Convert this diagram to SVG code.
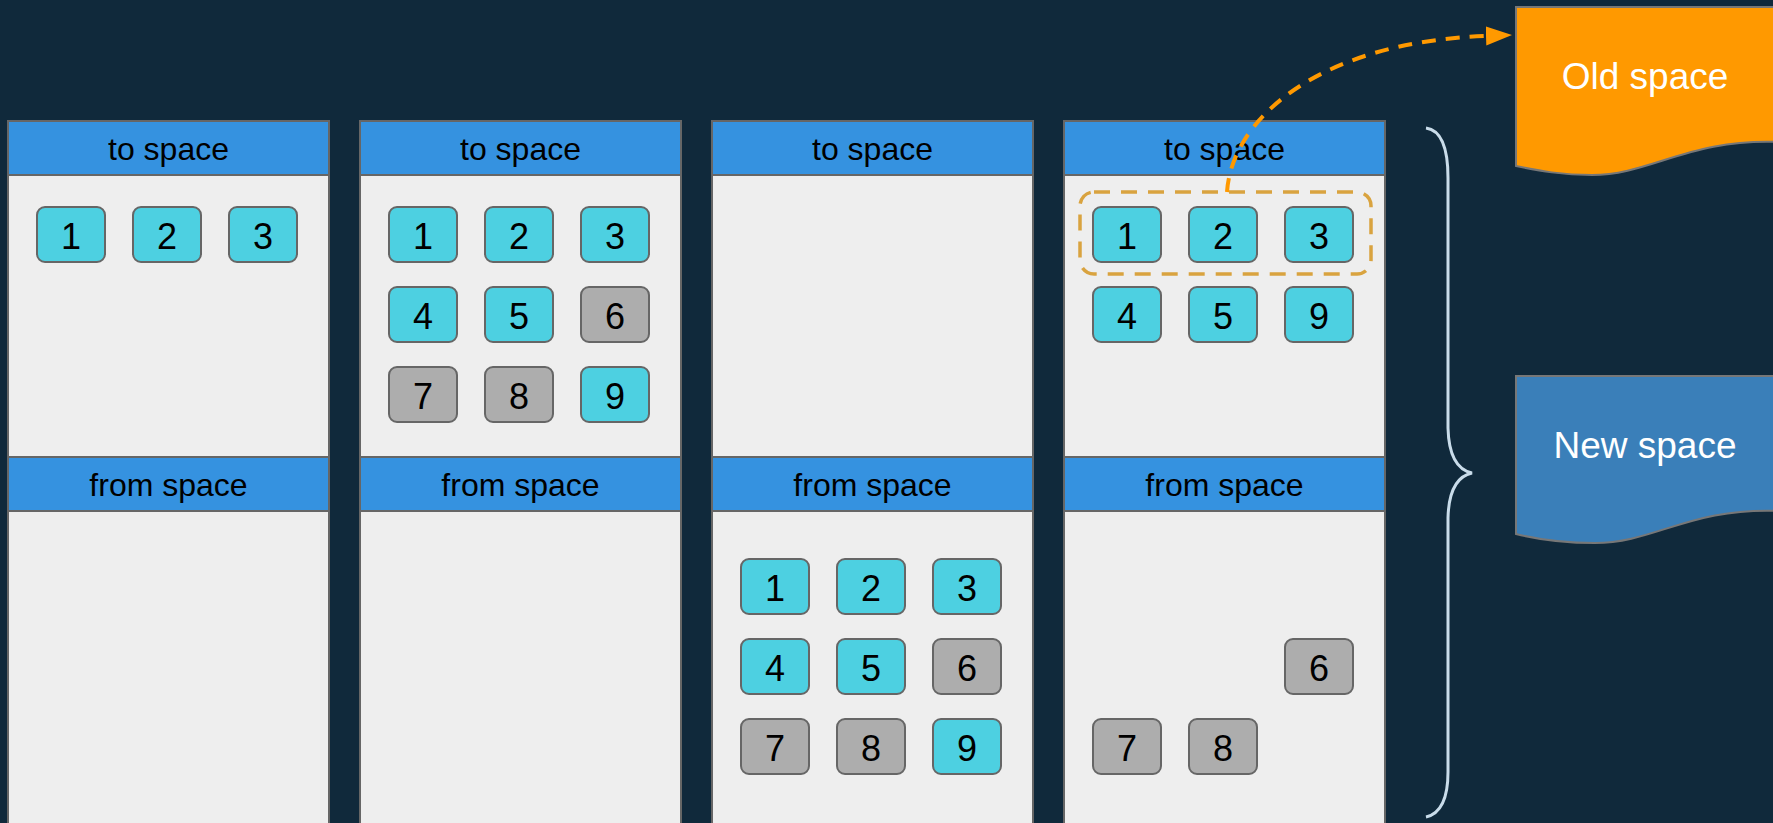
<svg xmlns="http://www.w3.org/2000/svg" width="1773" height="823" viewBox="0 0 1773 823">
<style>
.body{fill:#eeeeee;stroke:#666666;stroke-width:2}
.hdr{fill:#3592e0;stroke:#666666;stroke-width:2}
.ht{font-family:"Liberation Sans",Arial,sans-serif;font-size:32px;fill:#000;text-anchor:middle}
.b{stroke:#666666;stroke-width:2}
.c{fill:#4dd0e1}
.g{fill:#adadad}
.n{font-family:"Liberation Sans",Arial,sans-serif;font-size:36px;fill:#000;text-anchor:middle}
.lbl{font-family:"Liberation Sans",Arial,sans-serif;font-size:37px;fill:#ffffff;text-anchor:middle}
</style>
<defs>
<marker id="ah" markerUnits="userSpaceOnUse" markerWidth="30" markerHeight="22" refX="0" refY="9.5" orient="auto">
<path d="M0,0 L26,9.5 L0,19 Z" fill="#ff9900"/>
</marker>
</defs>
<rect width="1773" height="823" fill="#10293b"/>

<g id="col1">
<rect class="body" x="8" y="121" width="321" height="720"/>
<rect class="hdr" x="8" y="121" width="321" height="54"/>
<text class="ht" x="168.5" y="160">to space</text>
<rect class="hdr" x="8" y="457" width="321" height="54"/>
<text class="ht" x="168.5" y="496">from space</text>
<rect class="b c" x="37" y="207" width="68" height="55" rx="8"/><text class="n" x="71" y="249">1</text>
<rect class="b c" x="133" y="207" width="68" height="55" rx="8"/><text class="n" x="167" y="249">2</text>
<rect class="b c" x="229" y="207" width="68" height="55" rx="8"/><text class="n" x="263" y="249">3</text>
</g>

<g id="col2">
<rect class="body" x="360" y="121" width="321" height="720"/>
<rect class="hdr" x="360" y="121" width="321" height="54"/>
<text class="ht" x="520.5" y="160">to space</text>
<rect class="hdr" x="360" y="457" width="321" height="54"/>
<text class="ht" x="520.5" y="496">from space</text>
<rect class="b c" x="389" y="207" width="68" height="55" rx="8"/><text class="n" x="423" y="249">1</text>
<rect class="b c" x="485" y="207" width="68" height="55" rx="8"/><text class="n" x="519" y="249">2</text>
<rect class="b c" x="581" y="207" width="68" height="55" rx="8"/><text class="n" x="615" y="249">3</text>
<rect class="b c" x="389" y="287" width="68" height="55" rx="8"/><text class="n" x="423" y="329">4</text>
<rect class="b c" x="485" y="287" width="68" height="55" rx="8"/><text class="n" x="519" y="329">5</text>
<rect class="b g" x="581" y="287" width="68" height="55" rx="8"/><text class="n" x="615" y="329">6</text>
<rect class="b g" x="389" y="367" width="68" height="55" rx="8"/><text class="n" x="423" y="409">7</text>
<rect class="b g" x="485" y="367" width="68" height="55" rx="8"/><text class="n" x="519" y="409">8</text>
<rect class="b c" x="581" y="367" width="68" height="55" rx="8"/><text class="n" x="615" y="409">9</text>
</g>

<g id="col3">
<rect class="body" x="712" y="121" width="321" height="720"/>
<rect class="hdr" x="712" y="121" width="321" height="54"/>
<text class="ht" x="872.5" y="160">to space</text>
<rect class="hdr" x="712" y="457" width="321" height="54"/>
<text class="ht" x="872.5" y="496">from space</text>
<rect class="b c" x="741" y="559" width="68" height="55" rx="8"/><text class="n" x="775" y="601">1</text>
<rect class="b c" x="837" y="559" width="68" height="55" rx="8"/><text class="n" x="871" y="601">2</text>
<rect class="b c" x="933" y="559" width="68" height="55" rx="8"/><text class="n" x="967" y="601">3</text>
<rect class="b c" x="741" y="639" width="68" height="55" rx="8"/><text class="n" x="775" y="681">4</text>
<rect class="b c" x="837" y="639" width="68" height="55" rx="8"/><text class="n" x="871" y="681">5</text>
<rect class="b g" x="933" y="639" width="68" height="55" rx="8"/><text class="n" x="967" y="681">6</text>
<rect class="b g" x="741" y="719" width="68" height="55" rx="8"/><text class="n" x="775" y="761">7</text>
<rect class="b g" x="837" y="719" width="68" height="55" rx="8"/><text class="n" x="871" y="761">8</text>
<rect class="b c" x="933" y="719" width="68" height="55" rx="8"/><text class="n" x="967" y="761">9</text>
</g>

<g id="col4">
<rect class="body" x="1064" y="121" width="321" height="720"/>
<rect class="hdr" x="1064" y="121" width="321" height="54"/>
<text class="ht" x="1224.5" y="160">to space</text>
<rect class="hdr" x="1064" y="457" width="321" height="54"/>
<text class="ht" x="1224.5" y="496">from space</text>
<rect class="b c" x="1093" y="207" width="68" height="55" rx="8"/><text class="n" x="1127" y="249">1</text>
<rect class="b c" x="1189" y="207" width="68" height="55" rx="8"/><text class="n" x="1223" y="249">2</text>
<rect class="b c" x="1285" y="207" width="68" height="55" rx="8"/><text class="n" x="1319" y="249">3</text>
<rect class="b c" x="1093" y="287" width="68" height="55" rx="8"/><text class="n" x="1127" y="329">4</text>
<rect class="b c" x="1189" y="287" width="68" height="55" rx="8"/><text class="n" x="1223" y="329">5</text>
<rect class="b c" x="1285" y="287" width="68" height="55" rx="8"/><text class="n" x="1319" y="329">9</text>
<rect class="b g" x="1285" y="639" width="68" height="55" rx="8"/><text class="n" x="1319" y="681">6</text>
<rect class="b g" x="1093" y="719" width="68" height="55" rx="8"/><text class="n" x="1127" y="761">7</text>
<rect class="b g" x="1189" y="719" width="68" height="55" rx="8"/><text class="n" x="1223" y="761">8</text>
</g>

<g id="group-dashed">
<rect x="1080" y="192" width="291" height="82" rx="14" fill="none" stroke="#d9a33f" stroke-width="3.5" stroke-dasharray="16 11"/>
</g>

<g id="old-space">
<path d="M1516,7 H1780 V142 C1690,138 1650,175 1592,175 C1562,175 1540,171 1516,166 Z" fill="#ff9900" stroke="#777777" stroke-width="2"/>
<text class="lbl" x="1645" y="89">Old space</text>
</g>

<g id="new-space">
<path d="M1516,376 H1780 V511 C1690,507 1655,543 1595,543 C1565,543 1540,540 1516,534 Z" fill="#3a7fb9" stroke="#777777" stroke-width="2"/>
<text class="lbl" x="1645" y="458">New space</text>
</g>

<g id="brace">
<path d="M1426,128 Q1448,131 1448,178 L1448,428 Q1449,468 1472,473 Q1449,478 1448,518 L1448,772 Q1448,812 1426,817" fill="none" stroke="#c9dcea" stroke-width="3"/>
</g>

<g id="connectors">
<path d="M1227,192 C1232,118 1320,42 1486,36" fill="none" stroke="#ff9900" stroke-width="4" stroke-dasharray="14 10" marker-end="url(#ah)"/>
</g>
</svg>
